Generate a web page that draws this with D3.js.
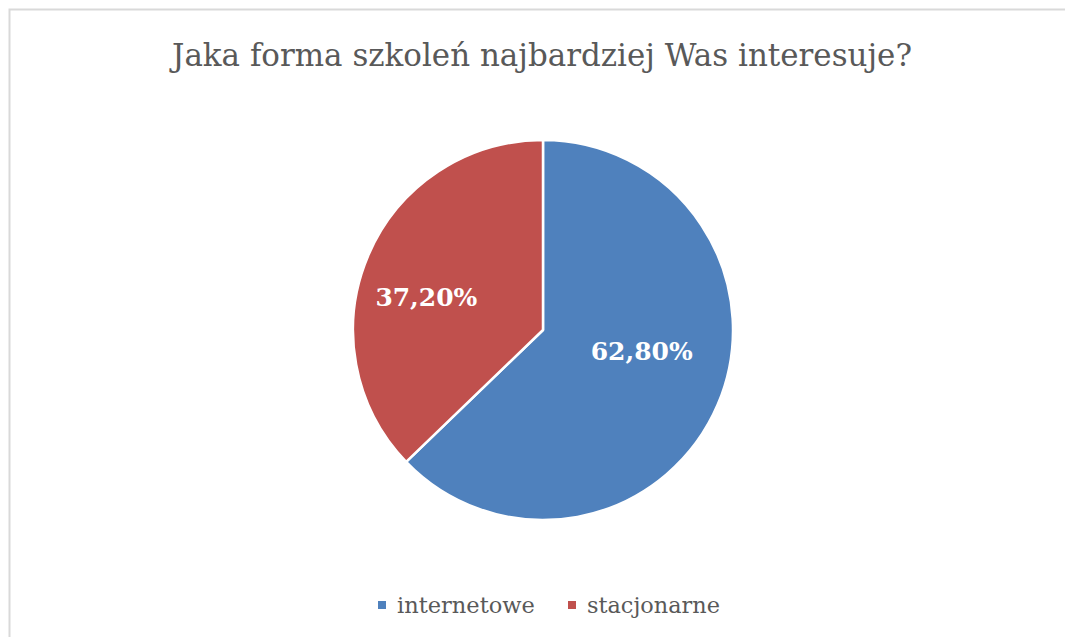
<!DOCTYPE html>
<html>
<head>
<meta charset="utf-8">
<script src="https://cdn.jsdelivr.net/npm/d3@7"></script>
<style>
  body { margin: 0; background: #fff; }
  svg { display: block; }
</style>
</head>
<body>
<svg id="chart" width="1065" height="637"></svg>
<script>
const title = 'Jaka forma szkoleń najbardziej Was interesuje?';
const categories = ['internetowe', 'stacjonarne'];
const values = [62.8, 37.2];
const colors = ['#4F81BD', '#C0504D'];

const svg = d3.select('#chart');
const width = +svg.attr('width');
const height = +svg.attr('height');
const serif = "'DejaVu Serif', 'Liberation Serif', serif";
const textColor = '#595959';

// chart frame (right and bottom edges fall outside the picture)
svg.append('rect')
  .attr('x', 9.5).attr('y', 9.5)
  .attr('width', width + 10).attr('height', height + 10)
  .attr('fill', '#fff')
  .attr('stroke', '#d9d9d9')
  .attr('stroke-width', 2);

// fit text to a target width by scaling the font size
function fitText(sel, target) {
  const base = parseFloat(sel.attr('font-size'));
  const len = sel.node().getComputedTextLength();
  sel.attr('font-size', base * target / len);
}

// title: a bit taller than DejaVu's natural width allows, squeeze to fit
svg.append('text')
  .attr('x', 542).attr('y', 66)
  .attr('text-anchor', 'middle')
  .attr('font-family', serif)
  .attr('font-size', 31)
  .attr('textLength', 740)
  .attr('lengthAdjust', 'spacingAndGlyphs')
  .attr('fill', textColor)
  .text(title);

// pie
const cx = 543, cy = 330, radius = 190;
const data = categories.map((c, i) => ({ name: c, value: values[i], color: colors[i] }));

const pie = d3.pie().sort(null).value(d => d.value);
const arc = d3.arc().innerRadius(0).outerRadius(radius);

const g = svg.append('g').attr('transform', `translate(${cx},${cy})`);

const arcs = pie(data);

g.selectAll('path.slice')
  .data(arcs)
  .join('path')
  .attr('class', 'slice')
  .attr('d', arc)
  .attr('fill', d => d.data.color)
  .attr('stroke', '#fff')
  .attr('stroke-width', 2.5)
  .attr('stroke-linejoin', 'round');

const fmt = v => d3.format('.2f')(v).replace('.', ',') + '%';
// "best fit" style label placement
const labelRx = 117, labelRy = 69, labelShift = [-9, -6];

g.selectAll('text.label')
  .data(arcs)
  .join('text')
  .attr('class', 'label')
  .attr('x', d => Math.sin((d.startAngle + d.endAngle) / 2) * labelRx + labelShift[0])
  .attr('y', d => -Math.cos((d.startAngle + d.endAngle) / 2) * labelRy + labelShift[1])
  .attr('dy', '0.35em')
  .attr('text-anchor', 'middle')
  .attr('font-family', serif)
  .attr('font-weight', 'bold')
  .attr('font-size', 24)
  .attr('fill', '#fff')
  .text(d => fmt(d.data.value))
  .each(function() { fitText(d3.select(this), 102); });

// legend
const legend = svg.append('g').attr('class', 'legend');
const legendX = [378, 568];

const items = legend.selectAll('g.item')
  .data(data)
  .join('g')
  .attr('class', 'item')
  .attr('transform', (d, i) => `translate(${legendX[i]},601)`);

items.append('rect')
  .attr('width', 8).attr('height', 8)
  .attr('fill', d => d.color);

items.append('text')
  .attr('x', 19).attr('y', 12)
  .attr('font-family', serif)
  .attr('font-size', 20)
  .attr('fill', textColor)
  .text(d => d.name)
  .each(function(d, i) { fitText(d3.select(this), i === 0 ? 138 : 133); });
</script>
</body>
</html>
